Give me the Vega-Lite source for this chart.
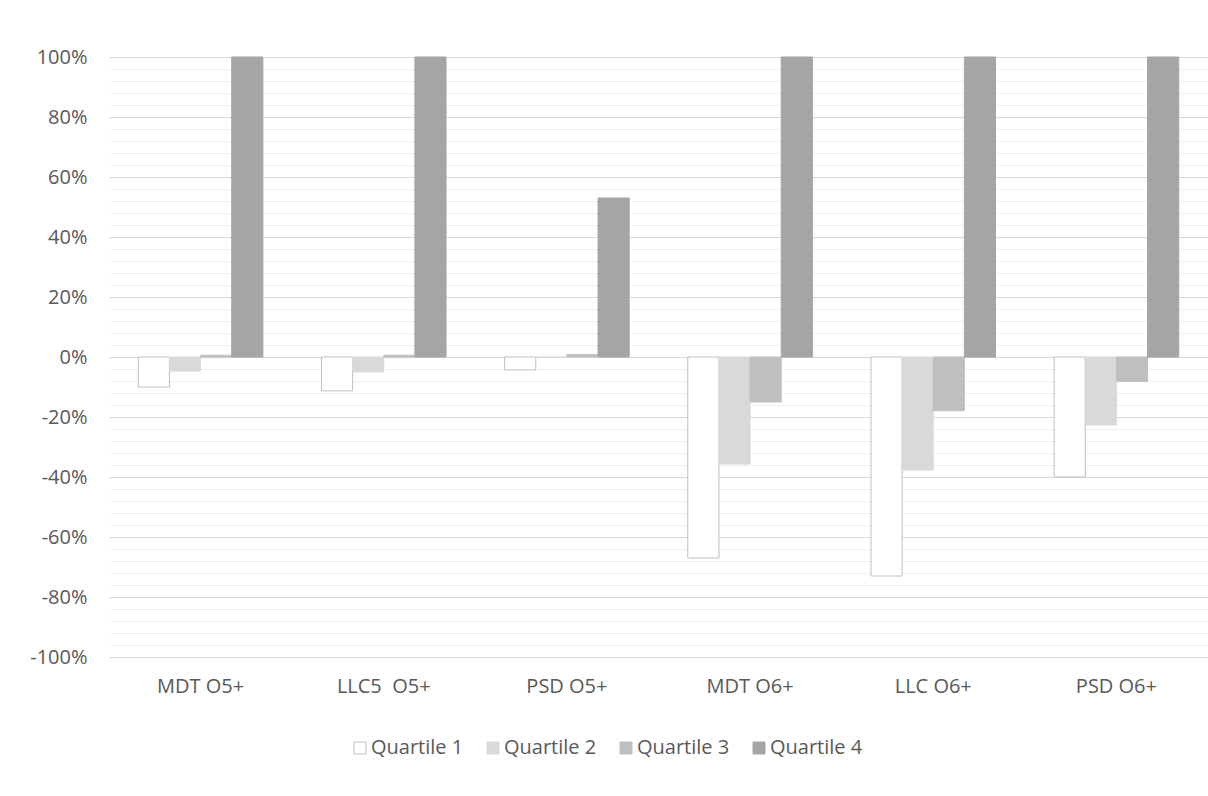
{
  "$schema": "https://vega.github.io/schema/vega-lite/v6.json",
  "width": 1099,
  "height": 600,
  "autosize": "none",
  "padding": {"left": 109, "top": 57, "right": 0, "bottom": 139},
  "background": "white",
  "config": {
    "view": {"stroke": null},
    "font": "Open Sans",
    "legend": {
      "orient": "none",
      "legendX": 241,
      "legendY": 681,
      "direction": "horizontal",
      "title": null,
      "symbolType": "square",
      "symbolSize": 144,
      "symbolStrokeWidth": 1,
      "labelFont": "Open Sans",
      "labelFontSize": 20,
      "labelColor": "#595959",
      "labelOffset": 1,
      "columnPadding": 19,
      "labelLimit": 200
    }
  },
  "data": {
    "values": [
      {"category": "MDT O5+", "quartile": "Quartile 1", "value": -0.10},
      {"category": "MDT O5+", "quartile": "Quartile 2", "value": -0.047},
      {"category": "MDT O5+", "quartile": "Quartile 3", "value": 0.006},
      {"category": "MDT O5+", "quartile": "Quartile 4", "value": 1.0},
      {"category": "LLC5\u00a0 O5+", "quartile": "Quartile 1", "value": -0.113},
      {"category": "LLC5\u00a0 O5+", "quartile": "Quartile 2", "value": -0.05},
      {"category": "LLC5\u00a0 O5+", "quartile": "Quartile 3", "value": 0.006},
      {"category": "LLC5\u00a0 O5+", "quartile": "Quartile 4", "value": 1.0},
      {"category": "PSD O5+", "quartile": "Quartile 1", "value": -0.043},
      {"category": "PSD O5+", "quartile": "Quartile 2", "value": -0.001},
      {"category": "PSD O5+", "quartile": "Quartile 3", "value": 0.008},
      {"category": "PSD O5+", "quartile": "Quartile 4", "value": 0.53},
      {"category": "MDT O6+", "quartile": "Quartile 1", "value": -0.67},
      {"category": "MDT O6+", "quartile": "Quartile 2", "value": -0.357},
      {"category": "MDT O6+", "quartile": "Quartile 3", "value": -0.15},
      {"category": "MDT O6+", "quartile": "Quartile 4", "value": 1.0},
      {"category": "LLC O6+", "quartile": "Quartile 1", "value": -0.73},
      {"category": "LLC O6+", "quartile": "Quartile 2", "value": -0.377},
      {"category": "LLC O6+", "quartile": "Quartile 3", "value": -0.179},
      {"category": "LLC O6+", "quartile": "Quartile 4", "value": 1.0},
      {"category": "PSD O6+", "quartile": "Quartile 1", "value": -0.40},
      {"category": "PSD O6+", "quartile": "Quartile 2", "value": -0.227},
      {"category": "PSD O6+", "quartile": "Quartile 3", "value": -0.082},
      {"category": "PSD O6+", "quartile": "Quartile 4", "value": 1.0}
    ]
  },
  "mark": {"type": "bar", "strokeWidth": 1},
  "encoding": {
    "x": {
      "field": "category",
      "type": "nominal",
      "sort": ["MDT O5+", "LLC5\u00a0 O5+", "PSD O5+", "MDT O6+", "LLC O6+", "PSD O6+"],
      "scale": {"paddingInner": 0.32, "paddingOuter": 0.16},
      "axis": {
        "title": null,
        "labelAngle": 0,
        "domain": false,
        "ticks": false,
        "grid": false,
        "labelFont": "Open Sans",
        "labelFontSize": 20,
        "labelColor": "#595959",
        "labelPadding": 19
      }
    },
    "xOffset": {
      "field": "quartile",
      "type": "nominal",
      "sort": ["Quartile 1", "Quartile 2", "Quartile 3", "Quartile 4"],
      "scale": {"paddingInner": 0, "paddingOuter": 0}
    },
    "y": {
      "field": "value",
      "type": "quantitative",
      "scale": {"domain": [-1, 1], "nice": false},
      "axis": {
        "title": null,
        "values": [-1, -0.96, -0.92, -0.88, -0.84, -0.8, -0.76, -0.72, -0.68, -0.64, -0.6, -0.56, -0.52, -0.48, -0.44, -0.4, -0.36, -0.32, -0.28, -0.24, -0.2, -0.16, -0.12, -0.08, -0.04, 0, 0.04, 0.08, 0.12, 0.16, 0.2, 0.24, 0.28, 0.32, 0.36, 0.4, 0.44, 0.48, 0.52, 0.56, 0.6, 0.64, 0.68, 0.72, 0.76, 0.8, 0.84, 0.88, 0.92, 0.96, 1],
        "labelExpr": "abs(round(datum.value * 100)) % 20 == 0 ? round(datum.value * 100) + '%' : ''",
        "labelOverlap": false,
        "labelBound": false,
        "labelFlush": false,
        "domain": false,
        "ticks": false,
        "grid": true,
        "gridWidth": 1,
        "gridColor": {
          "condition": {"test": "abs(round(datum.value * 100)) % 20 == 0", "value": "#d9d9d9"},
          "value": "#efefef"
        },
        "labelFont": "Open Sans",
        "labelFontSize": 20,
        "labelColor": "#595959",
        "labelPadding": 22
      }
    },
    "fill": {
      "field": "quartile",
      "type": "nominal",
      "scale": {
        "domain": ["Quartile 1", "Quartile 2", "Quartile 3", "Quartile 4"],
        "range": ["#ffffff", "#d9d9d9", "#bfbfbf", "#a5a5a5"]
      },
      "legend": {"title": null}
    },
    "stroke": {
      "field": "quartile",
      "type": "nominal",
      "scale": {
        "domain": ["Quartile 1", "Quartile 2", "Quartile 3", "Quartile 4"],
        "range": ["#bfbfbf", "#d9d9d9", "#bfbfbf", "#a5a5a5"]
      },
      "legend": {"title": null}
    }
  }
}
